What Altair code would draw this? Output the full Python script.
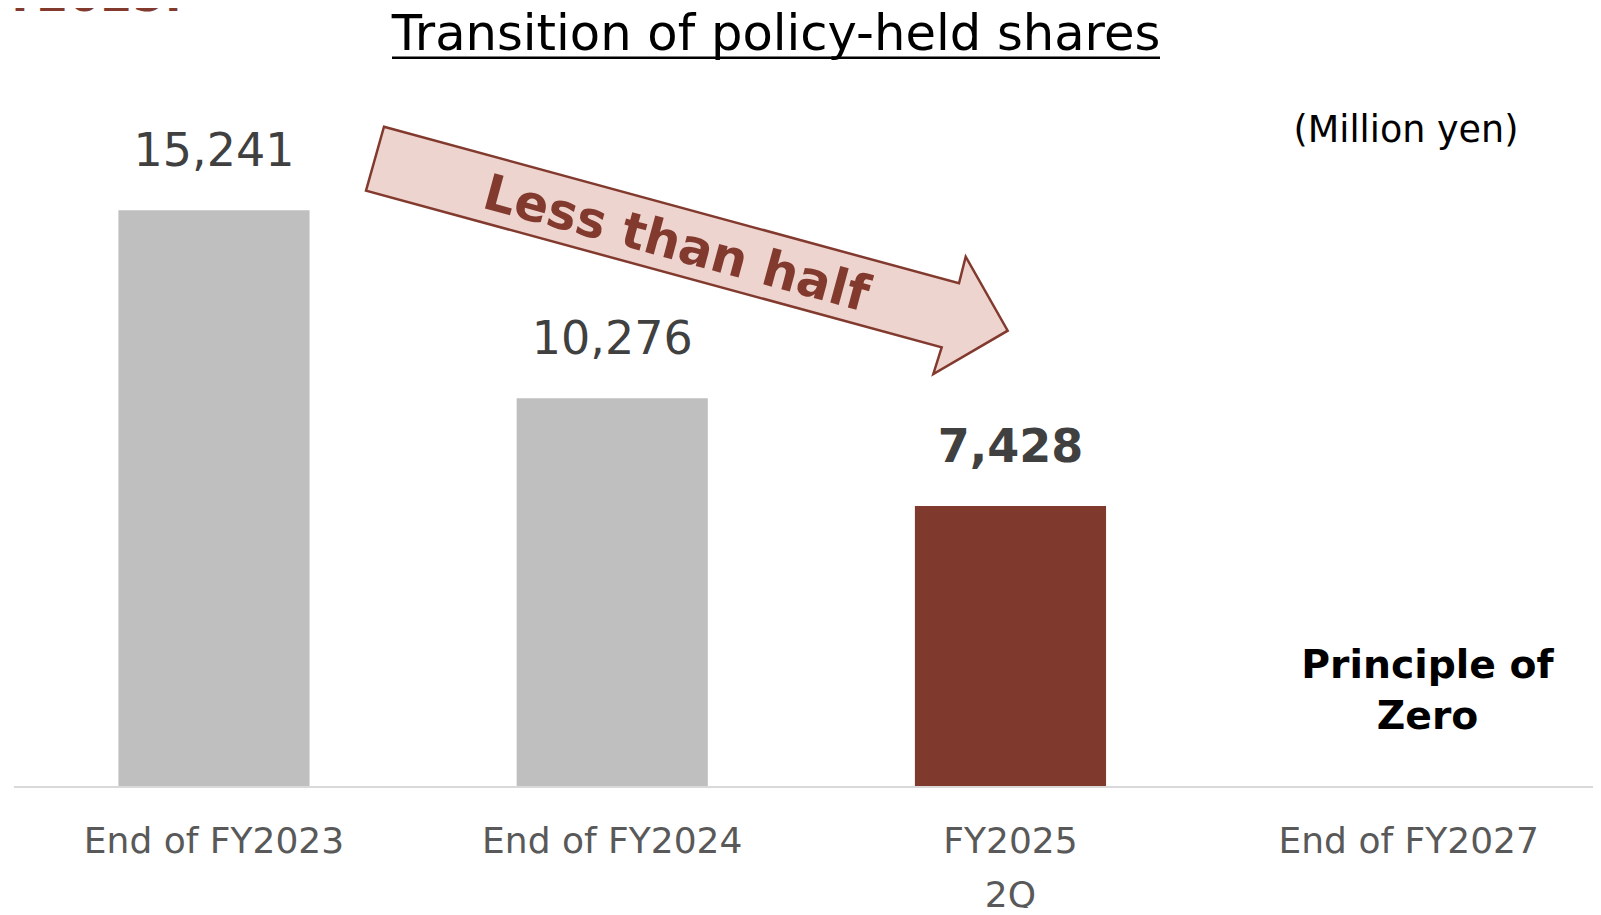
import altair as alt
import pandas as pd

# ---- data ----
categories = ["End of FY2023", "End of FY2024", "FY2025\n2Q", "End of FY2027"]
values = [15241, 10276, 7428, None]
highlight = ["past", "past", "current", "target"]

title_text = "Transition of policy-held shares"
unit_text = "(Million yen)"
arrow_text = "Less than half"
target_text = "Principle of\nZero"
cut_text = "FY2025."

df = pd.DataFrame({"cat": categories, "val": values, "kind": highlight})

FONT = "DejaVu Sans"
RED = "#833A2E"
GRAY = "#BFBFBF"
W, H = 1585, 779

x_enc = alt.X(
    "cat:N",
    sort=categories,
    scale=alt.Scale(domain=categories, paddingInner=0.52, paddingOuter=0.25, align=0.5545),
    axis=alt.Axis(
        title=None,
        labelAngle=0,
        labelFont=FONT,
        labelFontSize=36,
        labelColor="#595959",
        labelPadding=37.6,
        labelLineHeight=54,
        labelBaseline="top",
        labelLimit=0,
        labelExpr="split(datum.label, '\\n')",
        ticks=False,
        tickSize=0,
        grid=False,
        domain=False,
    ),
)
y_enc = alt.Y("val:Q", scale=alt.Scale(domain=[0, 20590]), axis=None)

base = alt.Chart(df)

bars = base.mark_bar().encode(
    x=x_enc,
    y=y_enc,
    color=alt.Color(
        "kind:N",
        scale=alt.Scale(domain=["past", "current", "target"], range=[GRAY, "#7F3A2D", GRAY]),
        legend=None,
    ),
)

labels_regular = base.transform_filter("datum.kind == 'past'").mark_text(
    font=FONT, fontSize=46, color="#404040", baseline="middle", align="center", dy=-58.5
).encode(x=x_enc, y=y_enc, text=alt.Text("val:Q", format=",.0f"))

labels_bold = base.transform_filter("datum.kind == 'current'").mark_text(
    font=FONT, fontSize=46, fontWeight="bold", color="#404040", baseline="middle", align="center", dy=-58
).encode(x=x_enc, y=y_enc, text=alt.Text("val:Q", format=",.0f"))

baseline_rule = alt.Chart(pd.DataFrame({"t": [0]})).mark_rule(color="#D9D9D9", strokeWidth=2).encode(
    x=alt.value(6), x2=alt.value(W), y=alt.value(H)
)


def note(text, x, y, **kw):
    return alt.Chart(pd.DataFrame({"t": [text]})).mark_text(font=FONT, **kw).encode(
        x=alt.value(x), y=alt.value(y), text="t:N"
    )


title = note(title_text, 768, 41.5, fontSize=49.6, color="#000000", align="center", baseline="alphabetic")
underline = alt.Chart(pd.DataFrame({"t": [0]})).mark_rule(color="#000000", strokeWidth=2.5).encode(
    x=alt.value(384), x2=alt.value(1152), y=alt.value(49.7)
)
unit = note(unit_text, 1398, 133.7, fontSize=36.5, color="#000000", align="center", baseline="alphabetic")
target = note(
    target_text, 1419.5, 670, fontSize=39.3, fontWeight="bold", color="#000000",
    align="center", baseline="alphabetic", lineBreak="\n", lineHeight=50.5,
)
cut = note(cut_text, 174, 2.7, fontSize=46, fontWeight="bold", color=RED, align="right", baseline="alphabetic")

arrow_path = (
    "M -0.9435 -0.3852 L 0.8478 0.1026 L 0.8687 0.0198 L 0.9995 0.2503 "
    "L 0.7678 0.3852 L 0.7939 0.3020 L -0.9995 -0.1858 Z"
)
arrow = alt.Chart(pd.DataFrame({"t": [0]})).mark_point(
    shape=arrow_path, size=412164, filled=True, fill="#EED4CF", stroke=RED,
    strokeWidth=2.5, opacity=1, fillOpacity=1, strokeOpacity=1,
).encode(x=alt.value(678.85), y=alt.value(242.35))

arrow_label = note(
    arrow_text, 668, 237, fontSize=50, fontWeight="bold", color=RED,
    align="center", baseline="middle", angle=15.24,
)

chart = (
    alt.layer(bars, baseline_rule, labels_regular, labels_bold, arrow, arrow_label,
              title, underline, unit, target, cut)
    .properties(
        width=W,
        height=H,
        autosize=alt.AutoSizeParams(type="none"),
        padding={"left": 0, "top": 0, "right": 0, "bottom": 121},
        background="#FFFFFF",
    )
    .configure_view(stroke=None)
)

chart.save("out.html", embed_options={"renderer": "svg", "actions": False})
